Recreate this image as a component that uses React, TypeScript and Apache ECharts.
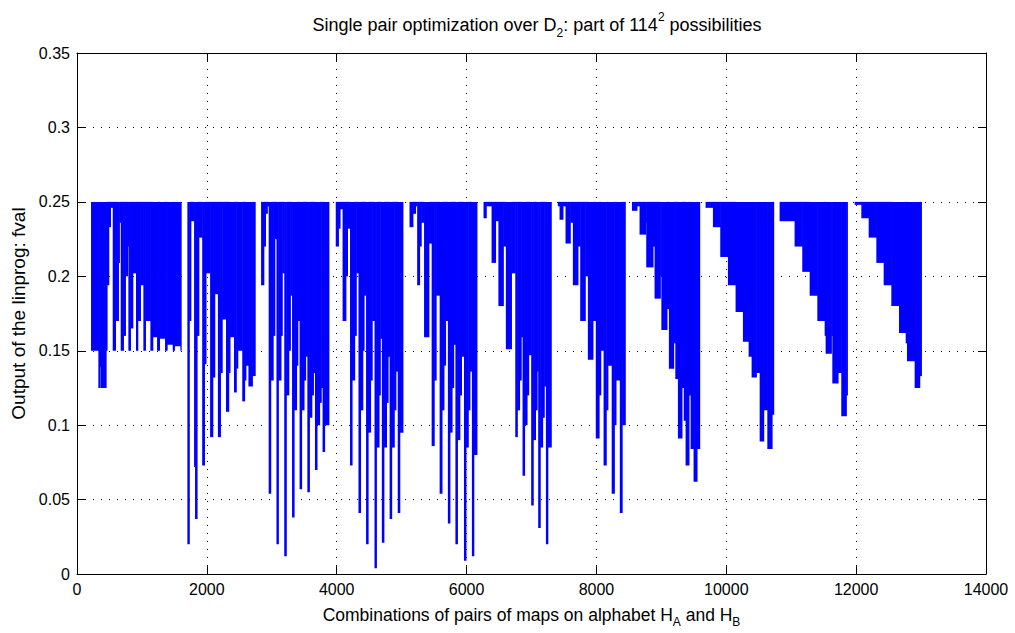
import React, { useEffect, useRef } from "react";
import * as echarts from "echarts";

// x: combination index, low: lower envelope of fval (holds until the next step; null = block end)
type Step = [number, number | null];

const ceiling = 0.25;

const xTicks = { min: 0, max: 14000, interval: 2000 };
const yTicks = { min: 0, max: 0.35, interval: 0.05 };

const block1: Step[] = [
  [216, 0.15], [329, 0.125], [348, 0.139], [360, 0.125], [447, 0.15], [462, 0.194], [488, 0.233], [514, 0.246],
  [550, 0.15], [591, 0.17], [637, 0.209], [652, 0.236], [673, 0.15], [714, 0.16], [745, 0.2], [776, 0.22],
  [791, 0.15], [822, 0.165], [858, 0.202], [909, 0.15], [935, 0.17], [976, 0.194], [1022, 0.15], [1053, 0.17],
  [1130, 0.15], [1166, 0.159], [1233, 0.15], [1269, 0.158], [1356, 0.15], [1387, 0.154], [1474, 0.15],
  [1500, 0.153], [1592, 0.15], [1603, null],
];

const block2: Step[] = [
  [1700, 0.02], [1728, 0.17], [1752, 0.237], [1803, 0.072], [1818, 0.037], [1848, 0.16], [1875, 0.226],
  [1928, 0.073], [1962, 0.141], [1985, 0.202], [2050, 0.092], [2090, 0.132], [2120, 0.188], [2170, 0.092],
  [2208, 0.135], [2235, 0.171], [2295, 0.109], [2335, 0.135], [2355, 0.159], [2418, 0.122], [2452, 0.138],
  [2475, 0.15], [2545, 0.116], [2580, 0.13], [2600, 0.14], [2640, 0.126], [2700, 0.133], [2743, null],
];

const block3: Step[] = [
  [2835, 0.194], [2876, 0.22], [2902, 0.242], [2930, 0.247], [2952, 0.054], [2982, 0.13], [3020, 0.16],
  [3045, 0.225], [3072, 0.02], [3100, 0.13], [3140, 0.16], [3160, 0.202], [3192, 0.012], [3222, 0.12],
  [3260, 0.15], [3285, 0.187], [3312, 0.038], [3342, 0.11], [3380, 0.14], [3400, 0.17], [3428, 0.057],
  [3458, 0.11], [3495, 0.13], [3520, 0.146], [3548, 0.055], [3578, 0.105], [3615, 0.12], [3640, 0.135],
  [3665, 0.07], [3695, 0.1], [3735, 0.115], [3760, 0.125], [3782, 0.082], [3812, 0.1], [3878, null],
];

const block4: Step[] = [
  [3985, 0.22], [4025, 0.232], [4050, 0.245], [4090, 0.17], [4140, 0.2], [4165, 0.232], [4205, 0.073],
  [4235, 0.13], [4275, 0.16], [4300, 0.202], [4335, 0.041], [4365, 0.11], [4400, 0.15], [4420, 0.187],
  [4452, 0.02], [4482, 0.095], [4520, 0.13], [4545, 0.17], [4582, 0.004], [4610, 0.085], [4650, 0.12],
  [4670, 0.158], [4695, 0.021], [4725, 0.085], [4765, 0.115], [4790, 0.146], [4815, 0.037], [4845, 0.085],
  [4885, 0.11], [4910, 0.136], [4940, 0.041], [4970, 0.095], [5018, null],
];

const block5: Step[] = [
  [5121, 0.233], [5172, 0.242], [5213, 0.247], [5239, 0.194], [5275, 0.22], [5300, 0.236], [5345, 0.159],
  [5418, 0.222], [5462, 0.086], [5500, 0.13], [5530, 0.187], [5585, 0.054], [5620, 0.11], [5650, 0.14],
  [5675, 0.17], [5712, 0.034], [5742, 0.095], [5775, 0.125], [5800, 0.154], [5828, 0.02], [5858, 0.09],
  [5895, 0.12], [5920, 0.146], [5960, 0.009], [5990, 0.085], [6025, 0.11], [6050, 0.136], [6082, 0.012],
  [6110, 0.08], [6158, null],
];

const block6: Step[] = [
  [6261, 0.239], [6302, 0.247], [6385, 0.209], [6445, 0.237], [6490, 0.18], [6565, 0.22], [6605, 0.151],
  [6690, 0.202], [6750, 0.092], [6780, 0.11], [6815, 0.13], [6840, 0.159], [6862, 0.066], [6892, 0.1],
  [6930, 0.12], [6955, 0.147], [6995, 0.046], [7025, 0.09], [7060, 0.11], [7085, 0.136], [7103, 0.031],
  [7133, 0.085], [7170, 0.105], [7195, 0.126], [7222, 0.02], [7250, 0.085], [7303, null],
];

const block7: Step[] = [
  [7406, 0.247], [7432, 0.238], [7483, 0.247], [7524, 0.222], [7596, 0.236], [7637, 0.194], [7714, 0.22],
  [7750, 0.17], [7827, 0.2], [7868, 0.144], [7945, 0.17], [7990, 0.091], [8040, 0.12], [8065, 0.15],
  [8110, 0.073], [8150, 0.11], [8175, 0.14], [8235, 0.054], [8275, 0.1], [8300, 0.13], [8360, 0.041],
  [8395, 0.1], [8443, null],
];

const block8: Step[] = [
  [8547, 0.244], [8623, 0.247], [8664, 0.228], [8757, 0.236], [8767, 0.206], [8870, 0.22], [8895, 0.185],
  [8983, 0.2], [9000, 0.164], [9085, 0.178], [9116, 0.138], [9188, 0.155], [9215, 0.131], [9255, 0.091],
  [9316, 0.125], [9345, 0.103], [9373, 0.073], [9424, 0.12], [9450, 0.084], [9496, 0.062], [9548, 0.084],
  [9589, null],
];

const block9: Step[] = [
  [9681, 0.246], [9794, 0.233], [9907, 0.213], [10025, 0.194], [10143, 0.176], [10256, 0.156],
  [10344, 0.146], [10390, 0.132], [10462, 0.135], [10514, 0.089], [10575, 0.11], [10632, 0.084],
  [10704, 0.107], [10729, null],
];

const block10: Step[] = [
  [10821, 0.237], [11052, 0.22], [11170, 0.203], [11284, 0.187], [11402, 0.17], [11515, 0.16],
  [11530, 0.148], [11617, 0.16], [11633, 0.128], [11720, 0.135], [11771, 0.106], [11848, 0.12], [11864, null],
];

const block11: Step[] = [
  [11977, 0.248], [12080, 0.239], [12193, 0.226], [12311, 0.209], [12424, 0.194], [12542, 0.18],
  [12660, 0.162], [12763, 0.155], [12783, 0.143], [12901, 0.125], [12978, 0.133], [13004, null],
];

const blocks: Step[][] = [block1, block2, block3, block4, block5, block6, block7, block8, block9, block10, block11];

const titleText = "Single pair optimization over D{sub|2}: part of 114{sup|2} possibilities";
const xName = "Combinations of pairs of maps on alphabet H{sub|A} and H{sub|B}";
const yName = "Output of the linprog: fval";

const FONT = "Liberation Sans";

function buildRects(): number[][] {
  const out: number[][] = [];
  for (const b of blocks) {
    for (let i = 0; i < b.length - 1; i++) {
      const lo = b[i][1];
      if (lo === null) continue;
      out.push([b[i][0], b[i + 1][0], lo, ceiling]);
    }
  }
  return out;
}

const richScript = {
  sup: { fontSize: 12, lineHeight: 14, verticalAlign: "top", fontFamily: FONT, color: "#000" },
  sub: { fontSize: 12, lineHeight: 14, verticalAlign: "bottom", fontFamily: FONT, color: "#000" },
};

export default function App() {
  const ref = useRef<HTMLDivElement>(null);
  useEffect(() => {
    document.body.style.margin = "0";
    if (!ref.current) return;
    const chart = echarts.init(ref.current, null, { renderer: "svg" });
    const axisLine = { show: true, onZero: false, lineStyle: { color: "#000", width: 1 } };
    const tick = { show: true, inside: true, length: 8, lineStyle: { color: "#000" } };
    const grid = { show: true, lineStyle: { color: "#000", width: 1, type: [1, 7] as any } };
    const label = { color: "#000", fontFamily: FONT, fontSize: 16 };
    chart.setOption({
      animation: false,
      backgroundColor: "#fff",
      title: {
        text: titleText,
        left: 532,
        top: 6,
        textAlign: "center",
        textStyle: {
          fontFamily: FONT,
          fontSize: 18,
          fontWeight: "normal",
          color: "#000",
          lineHeight: 28,
          rich: richScript,
        },
      },
      grid: { left: 77, right: 29, top: 53, bottom: 55, containLabel: false },
      xAxis: [
        {
          type: "value",
          position: "bottom",
          ...xTicks,
          axisLine,
          axisTick: tick,
          splitLine: grid,
          axisLabel: { ...label, margin: 7, formatter: (v: number) => String(v) },
          name: xName,
          nameLocation: "middle",
          nameGap: 10,
          nameTextStyle: { ...label, fontSize: 17.5, lineHeight: 26, rich: richScript },
        },
        {
          type: "value",
          position: "top",
          ...xTicks,
          axisLine,
          axisTick: tick,
          splitLine: { show: false },
          axisLabel: { show: false },
        },
      ],
      yAxis: [
        {
          type: "value",
          position: "left",
          ...yTicks,
          axisLine,
          axisTick: tick,
          splitLine: grid,
          axisLabel: { ...label, margin: 7, formatter: (v: number) => String(Math.round(v * 100) / 100) },
          name: yName,
          nameLocation: "middle",
          nameGap: 49,
          nameTextStyle: { ...label, fontSize: 19 },
        },
        {
          type: "value",
          position: "right",
          ...yTicks,
          axisLine,
          axisTick: tick,
          splitLine: { show: false },
          axisLabel: { show: false },
        },
      ],
      series: [
        {
          type: "custom",
          xAxisIndex: 0,
          yAxisIndex: 0,
          data: buildRects(),
          encode: { x: [0, 1], y: [2, 3] },
          renderItem: (_params: any, api: any) => {
            const p0 = api.coord([api.value(0), api.value(3)]);
            const p1 = api.coord([api.value(1), api.value(2)]);
            return {
              type: "rect",
              shape: { x: p0[0], y: p0[1], width: Math.max(1, p1[0] - p0[0] + 0.6), height: p1[1] - p0[1] },
              style: { fill: "#0000ff" },
            };
          },
        },
      ],
    });
    return () => chart.dispose();
  }, []);
  return <div ref={ref} style={{ width: 1015, height: 633 }} />;
}
